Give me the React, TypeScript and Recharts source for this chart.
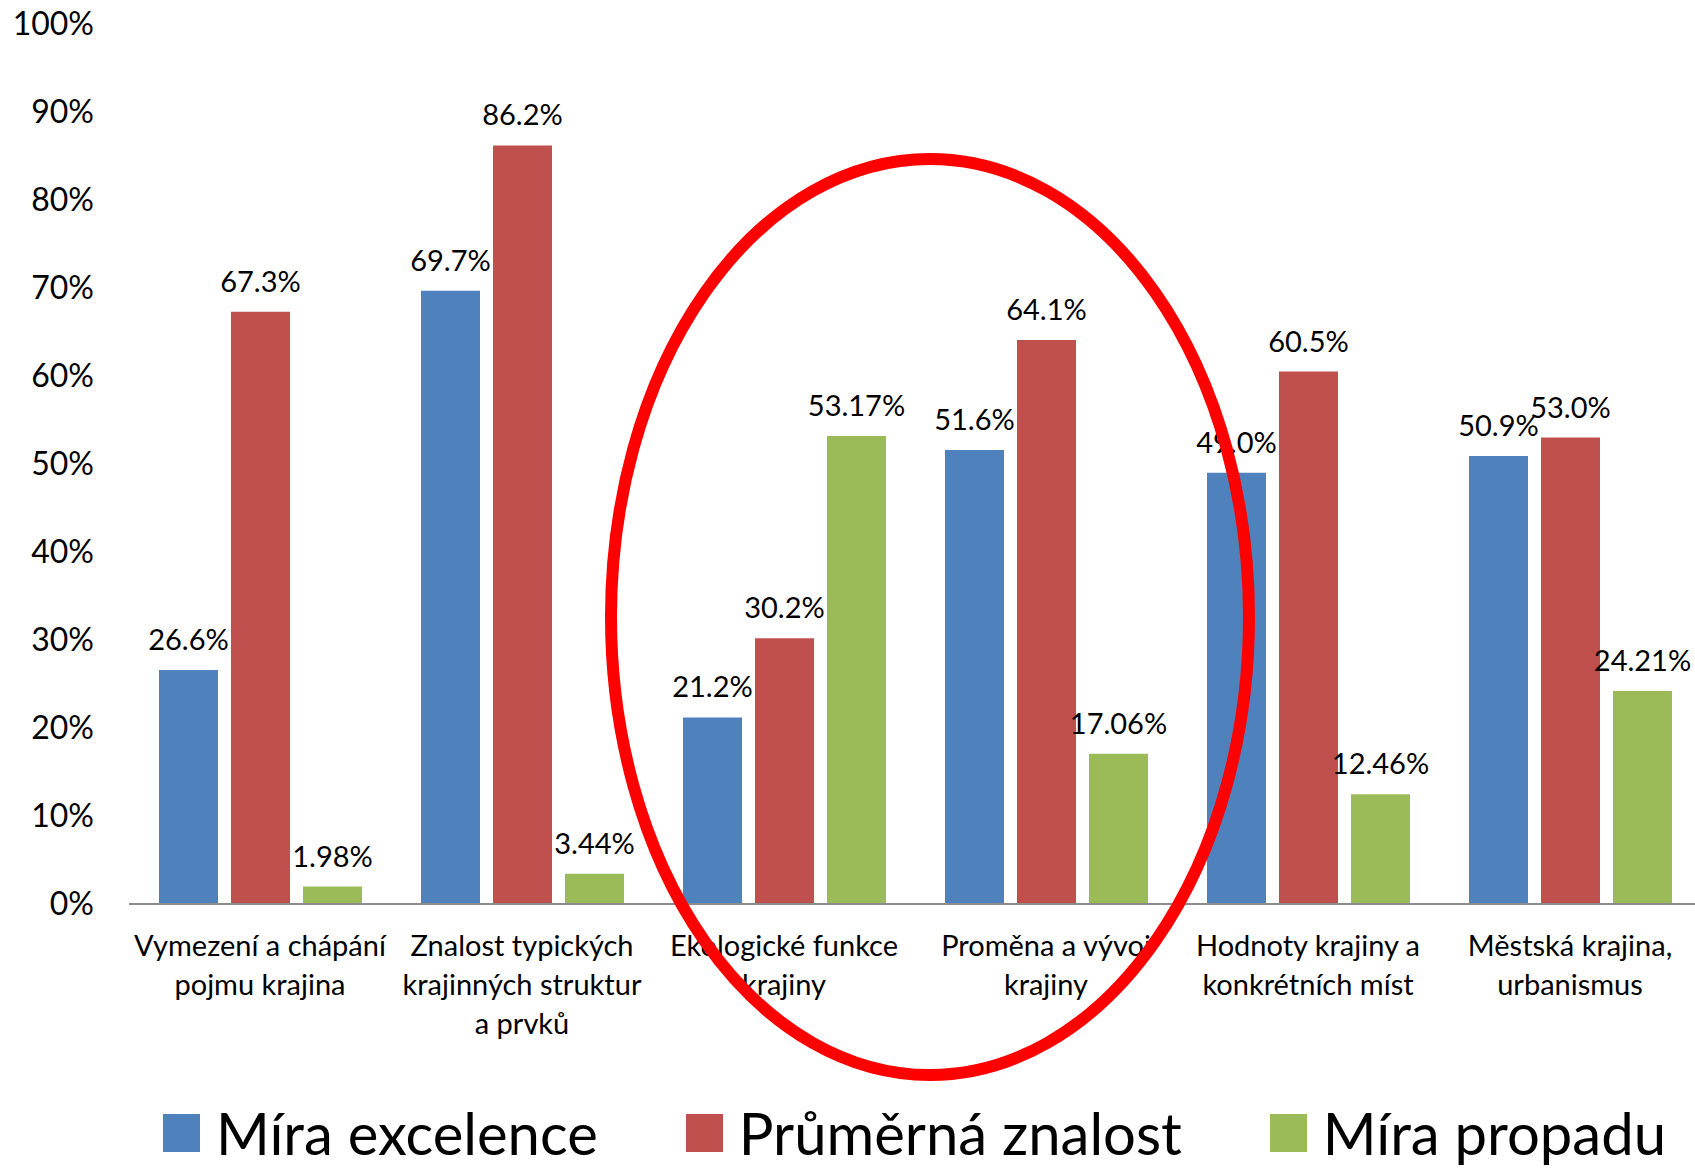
import React from "react";
import { Bar, BarChart, LabelList, Legend, XAxis, YAxis } from "recharts";

const categories = [
  "Vymezení a chápání\npojmu krajina",
  "Znalost typických\nkrajinných struktur\na prvků",
  "Ekologické funkce\nkrajiny",
  "Proměna a vývoj\nkrajiny",
  "Hodnoty krajiny a\nkonkrétních míst",
  "Městská krajina,\nurbanismus",
];

const excellence = [26.6, 69.7, 21.2, 51.6, 49.0, 50.9];
const averageKnowledge = [67.3, 86.2, 30.2, 64.1, 60.5, 53.0];
const failureRate = [1.98, 3.44, 53.17, 17.06, 12.46, 24.21];

const yTicks = [0, 10, 20, 30, 40, 50, 60, 70, 80, 90, 100];

const seriesNames = ["Míra excelence", "Průměrná znalost", "Míra propadu"];
const seriesColors = ["#4F81BD", "#C0504D", "#9BBB59"];

const FONT = "Lato, 'Open Sans', sans-serif";

const chartData = categories.map((name, i) => ({
  name,
  excellence: excellence[i],
  average: averageKnowledge[i],
  failure: failureRate[i],
}));

const CategoryTick = ({ x, y, payload }: any) => {
  const lines = String(payload.value).split("\n");
  return (
    <text x={x} y={y} textAnchor="middle" fill="#000" fontFamily={FONT} fontSize={29}>
      {lines.map((line, i) => (
        <tspan key={i} x={x} dy={i === 0 ? 52 : 39}>
          {line}
        </tspan>
      ))}
    </text>
  );
};

const LegendContent = () => (
  <div
    style={{
      display: "flex",
      alignItems: "center",
      height: 56,
      paddingTop: 14,
      paddingLeft: 163,
      fontFamily: FONT,
      fontSize: 58,
      lineHeight: 1,
      color: "#000",
      whiteSpace: "nowrap",
    }}
  >
    {seriesNames.map((name, i) => (
      <div key={name} style={{ display: "flex", alignItems: "center", marginRight: 88 }}>
        <span
          style={{
            display: "inline-block",
            width: 37,
            height: 38,
            background: seriesColors[i],
            marginRight: 16,
          }}
        />
        <span style={{ lineHeight: 1 }}>{name}</span>
      </div>
    ))}
  </div>
);

const oneDecimal = (v: any) => `${Number(v).toFixed(1)}%`;
const twoDecimals = (v: any) => `${Number(v).toFixed(2)}%`;

export default function App() {
  return (
    <div style={{ position: "relative", width: 1695, height: 1171, overflow: "hidden", background: "#fff" }}>
      <style>{`body { margin: 0; }`}</style>
      <BarChart
        width={1701}
        height={1171}
        data={chartData}
        margin={{ top: 24, right: 0, left: 0, bottom: 0 }}
        barCategoryGap={30}
        barGap={13}
      >
        <XAxis
          dataKey="name"
          interval={0}
          tickLine={false}
          tickSize={0}
          tickMargin={0}
          height={187}
          axisLine={{ stroke: "#8C8C8C", strokeWidth: 2 }}
          tick={<CategoryTick />}
        />
        <YAxis
          domain={[0, 100]}
          ticks={yTicks}
          width={129}
          axisLine={false}
          tickLine={false}
          tickSize={0}
          tickMargin={35}
          tickFormatter={(v) => `${v}%`}
          tick={{ fill: "#000", fontSize: 32, fontFamily: FONT }}
        />
        <Legend verticalAlign="bottom" align="left" height={80} content={<LegendContent />} />
        <Bar dataKey="excellence" name={seriesNames[0]} fill={seriesColors[0]} isAnimationActive={false}>
          <LabelList dataKey="excellence" position="top" offset={20} formatter={oneDecimal} fill="#000" fontSize={29} fontFamily={FONT} />
        </Bar>
        <Bar dataKey="average" name={seriesNames[1]} fill={seriesColors[1]} isAnimationActive={false}>
          <LabelList dataKey="average" position="top" offset={20} formatter={oneDecimal} fill="#000" fontSize={29} fontFamily={FONT} />
        </Bar>
        <Bar dataKey="failure" name={seriesNames[2]} fill={seriesColors[2]} isAnimationActive={false}>
          <LabelList dataKey="failure" position="top" offset={20} formatter={twoDecimals} fill="#000" fontSize={29} fontFamily={FONT} />
        </Bar>
      </BarChart>
      {/* red highlight ellipse drawn on top of the chart */}
      <svg
        width={1695}
        height={1171}
        style={{ position: "absolute", left: 0, top: 0, pointerEvents: "none" }}
      >
        <ellipse cx={930} cy={617} rx={319} ry={458} fill="none" stroke="#FF0000" strokeWidth={12} />
      </svg>
    </div>
  );
}
